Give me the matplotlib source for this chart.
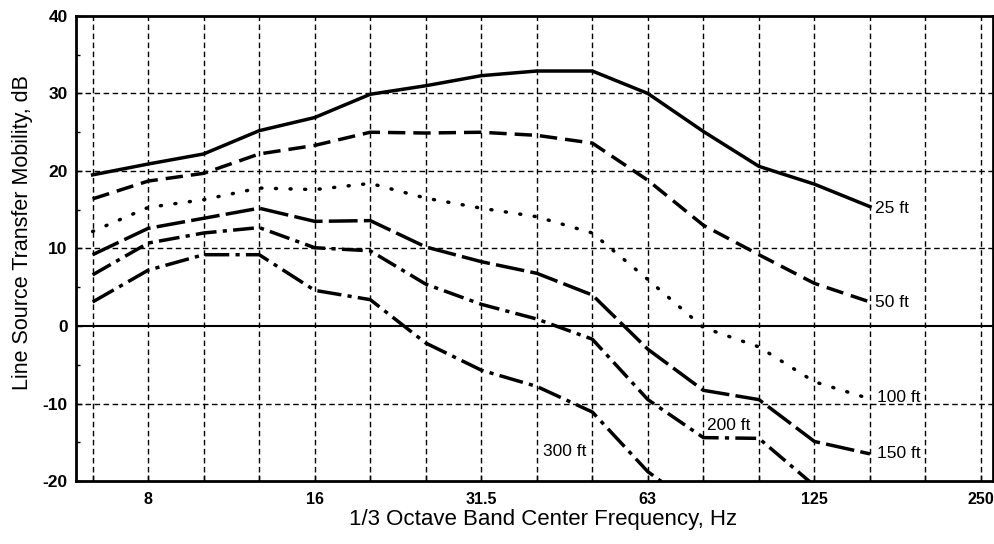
import numpy as np
import matplotlib.pyplot as plt

plt.rcParams['font.family'] = ['Liberation Sans', 'DejaVu Sans']
plt.rcParams['axes.unicode_minus'] = False

# 1/3 octave band nominal frequencies (Hz)
bands = [6.3, 8, 10, 12.5, 16, 20, 25, 31.5, 40, 50, 63, 80, 100, 125, 160, 200, 250]
labeled = [8, 16, 31.5, 63, 125, 250]

# transfer mobility (dB) per distance, 6.3 .. 160 Hz
lstm_25 = [19.5, 20.9, 22.2, 25.2, 26.9, 29.9, 31.0, 32.3, 32.9, 32.9, 30.0, 25.1, 20.6, 18.3, 15.4]
lstm_50 = [16.4, 18.7, 19.7, 22.2, 23.3, 25.0, 24.9, 25.0, 24.6, 23.6, 18.8, 13.0, 9.2, 5.5, 3.1]
lstm_100 = [12.2, 15.3, 16.3, 17.8, 17.6, 18.4, 16.5, 15.2, 14.1, 12.0, 6.0, -0.2, -2.7, -7.2, -9.4]
lstm_150 = [9.2, 12.6, 13.9, 15.2, 13.5, 13.6, 10.2, 8.3, 6.8, 4.0, -3.0, -8.3, -9.5, -14.9, -16.5]
lstm_200 = [6.6, 10.7, 12.0, 12.7, 10.1, 9.7, 5.4, 2.8, 0.9, -1.7, -9.5, -14.4, -14.5, -20.6]
lstm_300 = [3.1, 7.2, 9.2, 9.2, 4.6, 3.4, -2.2, -5.7, -7.8, -11.1, -18.8, -24.0]

# exact band centres from the nominal values
centers = 10 ** (np.round(10 * np.log10(bands)) / 10)

fig = plt.figure(figsize=(9.95, 5.44), dpi=100)
ax = fig.add_axes([0.0764, 0.1158, 0.9216, 0.8548])

# grid
grid_kw = dict(color='black', lw=1.0, ls=(0, (4, 2.5)), zorder=1)
for f in centers:
    ax.axvline(f, **grid_kw)
for y in [-10, 10, 20, 30]:
    ax.axhline(y, **grid_kw)
ax.axhline(0, color='black', lw=1.5, zorder=1)

lw = 2.5
curves = [
    (lstm_25, '-', 'butt'),
    (lstm_50, (0, (5.0, 2.3)), 'butt'),
    (lstm_100, (0, (0.3, 3.9)), 'round'),
    (lstm_150, (0, (8.3, 1.8)), 'butt'),
    (lstm_200, (0, (6.0, 1.8, 1.2, 1.8)), 'butt'),
    (lstm_300, (0, (7.0, 1.8, 1.2, 1.8)), 'butt'),
]
for vals, style, cap in curves:
    ax.plot(centers[:len(vals)], vals, color='black', lw=lw, ls=style,
            dash_capstyle=cap, solid_joinstyle='round', zorder=3)

ax.set_xscale('log')
ax.set_xlim(5.89, 264)
ax.set_ylim(-20, 40)

ax.set_xticks(centers)
ax.set_xticklabels([str(b) if b in labeled else '' for b in bands])
ax.xaxis.set_minor_locator(plt.NullLocator())
ax.set_yticks([-20, -10, 0, 10, 20, 30, 40])
ax.set_yticks([-15, -5, 5, 15, 25, 35], minor=True)
ax.tick_params(axis='both', which='major', direction='in', length=4, width=1)
ax.tick_params(axis='x', labelsize=11.5, pad=8)
ax.tick_params(axis='y', labelsize=12.5, pad=6)
ax.tick_params(axis='y', which='minor', direction='in', length=3, width=1)
for lab in ax.get_xticklabels() + ax.get_yticklabels():
    lab.set_fontweight('bold')

for side in ['left', 'bottom', 'top', 'right']:
    ax.spines[side].set_linewidth(2.0)

ax.set_xlabel('1/3 Octave Band Center Frequency, Hz', fontsize=16)
ax.set_ylabel('Line Source Transfer Mobility, dB', fontsize=15.5)
ax.xaxis.set_label_coords(0.509, -0.061)
ax.yaxis.set_label_coords(-0.047, 0.535)

# distance labels
lab_kw = dict(fontsize=12.5, va='center', ha='left', zorder=4)
ax.text(161.5, 15.2, '25 ft', **lab_kw)
ax.text(161.5, 3.0, '50 ft', **lab_kw)
ax.text(163, -9.2, '100 ft', **lab_kw)
ax.text(163, -16.5, '150 ft', **lab_kw)
ax.text(80.7, -12.8, '200 ft', **lab_kw)
ax.text(40.8, -16.2, '300 ft', **lab_kw)

fig.savefig('out.png', dpi=100)
